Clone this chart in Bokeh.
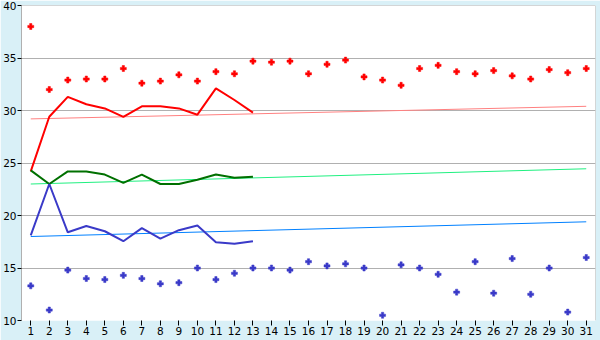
from bokeh.plotting import figure
from bokeh.models import FixedTicker, Span
from bokeh.embed import file_html
from bokeh.resources import INLINE

days = list(range(1, 32))
max_temp = [38.0, 32.0, 32.9, 33.0, 33.0, 34.0, 32.6, 32.8, 33.4, 32.8, 33.7, 33.5, 34.7, 34.6, 34.7,
            33.5, 34.4, 34.8, 33.2, 32.9, 32.4, 34.0, 34.3, 33.7, 33.5, 33.8, 33.3, 33.0, 33.9, 33.6, 34.0]
min_temp = [13.3, 11.0, 14.8, 14.0, 13.9, 14.3, 14.0, 13.5, 13.6, 15.0, 13.9, 14.5, 15.0, 15.0, 14.8,
            15.6, 15.2, 15.4, 15.0, 10.5, 15.3, 15.0, 14.4, 12.7, 15.6, 12.6, 15.9, 12.5, 15.0, 10.8, 16.0]

line_days = list(range(1, 14))
red_line = [24.2, 29.4, 31.3, 30.6, 30.2, 29.4, 30.4, 30.4, 30.2, 29.6, 32.1, 31.0, 29.8]
green_line = [24.3, 23.0, 24.2, 24.2, 23.9, 23.1, 23.9, 23.0, 23.0, 23.4, 23.9, 23.6, 23.7]
blue_line = [18.1, 23.0, 18.4, 19.0, 18.5, 17.55, 18.8, 17.8, 18.6, 19.05, 17.45, 17.3, 17.55]

trend_days = [1, 31]
red_trend = [29.2, 30.4]
green_trend = [23.0, 24.45]
blue_trend = [18.0, 19.4]

y_ticks = [10, 15, 20, 25, 30, 35, 40]

BG = "#d9f0f7"
GRID = "#b0b0b0"

p = figure(width=600, height=340, output_backend="svg", toolbar_location=None,
           x_range=(0.5, 31.5), y_range=(10, 40),
           min_border_left=20, min_border_right=5, min_border_top=5, min_border_bottom=20)
p.background_fill_color = "white"
p.border_fill_color = BG
p.outline_line_color = None

p.xgrid.grid_line_color = None
p.ygrid.grid_line_color = GRID
p.ygrid.ticker = FixedTicker(ticks=y_ticks)

for ax in (p.xaxis, p.yaxis):
    ax.major_label_text_font = "DejaVu Sans"
    ax.major_label_text_font_size = "10.5px"
    ax.major_label_text_color = "black"
    ax.major_tick_line_color = "black"
    ax.major_tick_in = 0
    ax.minor_tick_line_color = None
    ax.major_label_standoff = 1

p.xaxis.major_tick_out = 5
p.yaxis.major_tick_out = 4
p.xaxis.ticker = FixedTicker(ticks=days)
p.yaxis.ticker = FixedTicker(ticks=y_ticks)
p.xaxis.axis_line_color = None
p.yaxis.axis_line_color = GRID

p.add_layout(Span(location=31.5, dimension="height", line_color=GRID, line_width=1))
p.add_layout(Span(location=40, dimension="width", line_color=GRID, line_width=1))

# trend lines
p.line(trend_days, red_trend, line_color="#ff8080", line_width=1)
p.line(trend_days, green_trend, line_color="#20f080", line_width=1)
p.line(trend_days, blue_trend, line_color="#0080ff", line_width=1)

# daily lines
p.line(line_days, red_line, line_color="#ff0000", line_width=2)
p.line(line_days, green_line, line_color="#007000", line_width=2)
p.line(line_days, blue_line, line_color="#3a3ac8", line_width=2)

# extremes
p.scatter(days, max_temp, marker="plus", size=6, fill_color="#ff0000", line_color="#ff0000", line_width=0.5)
p.scatter(days, min_temp, marker="plus", size=6, fill_color="#3a3ac8", line_color="#3a3ac8", line_width=0.5)

open("out.html", "w").write(file_html(p, INLINE))
